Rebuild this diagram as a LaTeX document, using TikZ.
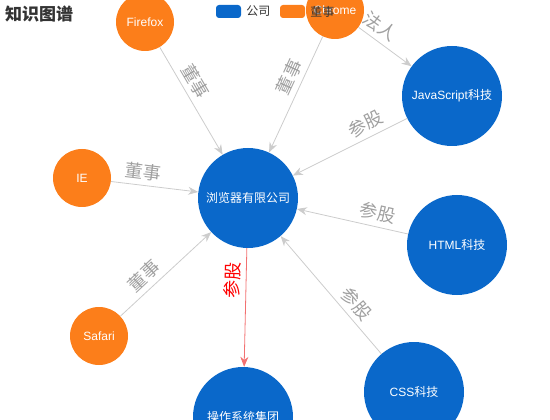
\documentclass[tikz,border=0pt]{standalone}
\usepackage{fontspec}
\setmainfont{Liberation Sans}
\newfontfamily\cjk{Noto Sans CJK SC}
\usetikzlibrary{arrows.meta, positioning}
\definecolor{kgblue}{HTML}{0A68CA}
\definecolor{kgorange}{HTML}{FC7E1A}
\definecolor{kgline}{HTML}{CCCCCC}
\definecolor{kglabel}{HTML}{A0A0A0}
\definecolor{kgred}{HTML}{F27171}
\definecolor{kgtext}{HTML}{333333}

\begin{document}
\begin{tikzpicture}[x=1pt, y=-1pt,
    company/.style={circle, fill=kgblue, text=white, minimum size=100pt,
                    inner sep=0pt, font=\fontsize{12}{12}\selectfont},
    person/.style={circle, fill=kgorange, text=white, minimum size=58pt,
                   inner sep=0pt, font=\fontsize{12}{12}\selectfont},
    link/.style={-{Stealth[length=10pt, width=8pt]}, kgline, line width=0.8pt},
    rel/.style={sloped, above=3pt, inner sep=2pt, text=kglabel,
                font=\cjk\fontsize{18}{18}\selectfont},
    legbox/.style={rounded corners=3pt, minimum width=25pt, minimum height=13pt, inner sep=0pt},
    legtext/.style={inner sep=0pt, text=kgtext, font=\cjk\fontsize{12}{12}\selectfont}]
  \useasboundingbox (0,0) rectangle (550,420);
  \clip (0,0) rectangle (550,420);
  % companies
  \node[company] (bro) at (248,198) {\cjk 浏览器有限公司};
  \node[company] (js) at (452,96) {JavaScript{\cjk 科技}};
  \node[company] (html) at (457,245) {HTML{\cjk 科技}};
  \node[company] (css) at (414,392) {CSS{\cjk 科技}};
  \node[company] (os) at (243,417) {\cjk 操作系统集团};
  % directors
  \node[person] (ff) at (145,22) {Firefox};
  \node[person] (chrome) at (335,10) {Chrome};
  \node[person] (ie) at (82,178) {IE};
  \node[person] (safari) at (99,336) {Safari};
  % relations
  \draw[link] (ff) -- node[rel, pos=0.38] {董事} (bro);
  \draw[link] (chrome) -- node[rel, pos=0.40] {董事} (bro);
  \draw[link] (ie) -- node[rel, pos=0.35] {董事} (bro);
  \draw[link] (safari) -- node[rel, pos=0.36] {董事} (bro);
  \draw[link] (chrome) -- node[rel, pos=0.26] {法人} (js);
  \draw[link] (js) -- node[rel, pos=0.31] {参股} (bro);
  \draw[link] (html) -- node[rel, pos=0.30] {参股} (bro);
  \draw[link] (css) -- node[rel, pos=0.35] {参股} (bro);
  \draw[link, kgred] (bro) -- node[rel, pos=0.27, text=red] {参股} (os);
  % title and legend
  \node[anchor=west, inner sep=0pt, text=kgtext, font=\cjk\bfseries\fontsize{17}{17}\selectfont]
    (title) at (5,14) {知识图谱};
  \node[legbox, fill=kgblue] (lgcomp) at (228.5,11.5) {};
  \node[legtext, right=5pt of lgcomp] (lgcomptext) {公司};
  \node[legbox, fill=kgorange] (lgpers) at (292.5,11.5) {};
  \node[legtext, right=5pt of lgpers] (lgperstext) {董事};
\end{tikzpicture}
\end{document}
